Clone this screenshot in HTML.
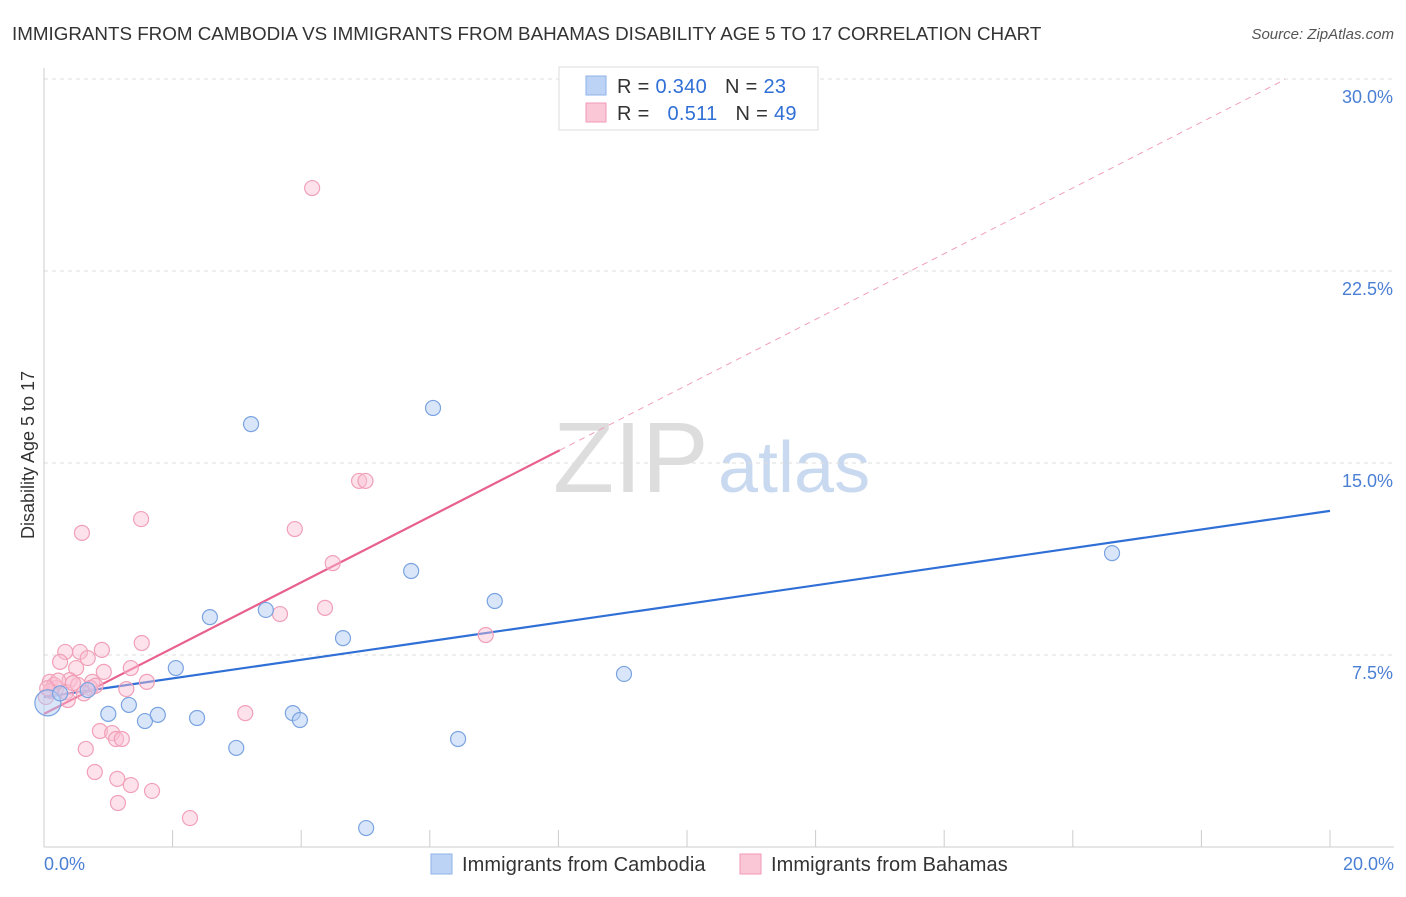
<!DOCTYPE html>
<html><head><meta charset="utf-8">
<style>
body{margin:0;background:#fff;font-family:"Liberation Sans",sans-serif;}
svg text{font-family:"Liberation Sans",sans-serif;}
</style></head>
<body>
<svg id="chart" width="1406" height="892" viewBox="0 0 1406 892">
<text x="12" y="40" font-size="18.8" fill="#333">IMMIGRANTS FROM CAMBODIA VS IMMIGRANTS FROM BAHAMAS DISABILITY AGE 5 TO 17 CORRELATION CHART</text>
<text x="1394" y="39" font-size="15" fill="#555" text-anchor="end" font-style="italic">Source: ZipAtlas.com</text>
<g>
<text x="553" y="492" font-size="100" fill="#ddd" font-family="Liberation Serif">ZIP</text>
<text x="718" y="492" font-size="72" fill="#c9daf0">atlas</text>
</g>
<g id="grid"></g>
<g id="axes"></g>
<g id="lines"></g>
<g id="points"></g>
<text transform="translate(34,455) rotate(-90)" font-size="18" fill="#333" text-anchor="middle">Disability Age 5 to 17</text>
<text x="44" y="870" font-size="18" fill="#4a7fd4">0.0%</text>
<text x="1394" y="870" font-size="18" fill="#4a7fd4" text-anchor="end">20.0%</text>
<g>
<rect x="559" y="67" width="259" height="63" fill="#fff" stroke="#ddd"/>
<rect x="586" y="76" width="20" height="19" fill="#bcd3f5" stroke="#8fb2e8"/>
<rect x="586" y="103" width="20" height="19" fill="#fac7d6" stroke="#f09ab5"/>
<text x="617" y="93" font-size="20" fill="#333" letter-spacing="0.3">R = <tspan fill="#2f6fd6">0.340</tspan><tspan dx="18">N = </tspan><tspan fill="#2f6fd6">23</tspan></text>
<text x="617" y="120" font-size="20" fill="#333" letter-spacing="0.3">R = <tspan dx="12" fill="#2f6fd6">0.511</tspan><tspan dx="18">N = </tspan><tspan fill="#2f6fd6">49</tspan></text>
</g>
<g>
<rect x="431" y="854" width="21" height="20" fill="#bcd3f5" stroke="#8fb2e8"/>
<text x="462" y="871" font-size="20" letter-spacing="0.1" fill="#333">Immigrants from Cambodia</text>
<rect x="740" y="854" width="21" height="20" fill="#fac7d6" stroke="#f09ab5"/>
<text x="771" y="871" font-size="20" letter-spacing="0.1" fill="#333">Immigrants from Bahamas</text>
</g>
</svg>
<script>
const yTicks=[7.5,15,22.5,30];
const yTickLabels=["7.5%","15.0%","22.5%","30.0%"];
const xTicks=[0,2,4,6,8,10,12,14,16,18,20];
const cambodiaX=[0.06,0.68,1.0,1.32,1.57,1.77,2.05,2.38,2.58,2.99,3.22,3.45,3.87,3.98,4.65,5.01,5.71,6.05,6.44,7.01,9.02,16.61,0.25];
const cambodiaY=[5.63,6.13,5.2,5.55,4.92,5.16,6.99,5.04,8.98,3.87,16.52,9.26,5.23,4.96,8.16,0.74,10.78,17.15,4.22,9.61,6.76,11.48,6.0];
const bahamasX=[4.17,0.59,1.51,4.9,5.0,3.9,4.49,4.37,3.67,6.87,1.52,0.9,0.33,0.56,0.68,0.25,1.35,0.93,0.5,1.6,0.75,0.09,0.4,1.28,0.19,0.34,0.72,0.03,0.37,3.13,0.87,1.06,1.12,1.21,0.65,0.79,1.14,1.35,1.15,1.68,2.27,0.16,0.53,0.1,0.45,0.62,0.22,0.8,0.05];
const bahamasY=[25.74,12.27,12.81,14.3,14.3,12.42,11.09,9.34,9.1,8.28,7.97,7.7,7.62,7.62,7.38,7.23,6.99,6.84,6.99,6.45,6.45,6.45,6.52,6.17,6.21,6.05,6.21,5.86,5.74,5.23,4.53,4.45,4.22,4.22,3.83,2.93,2.66,2.42,1.72,2.19,1.13,6.33,6.33,6.1,6.4,6.0,6.5,6.3,6.2];
const cambodiaTrend=[5.86,13.13]; // y at x=0 and x=20
const bahamasTrend=[5.2,1.284];   // intercept, slope
const bahamasSolidEnd=8.02;
const bahamasDashEnd=19.3;

const NS="http://www.w3.org/2000/svg";
const sx=v=>44+v*(1330-44)/20;
const sy=v=>847-v*25.6;
function mk(tag,attrs,parent){const e=document.createElementNS(NS,tag);for(const k in attrs)e.setAttribute(k,attrs[k]);parent.appendChild(e);return e;}
const grid=document.getElementById('grid'),axes=document.getElementById('axes'),lines=document.getElementById('lines'),pts=document.getElementById('points');
yTicks.forEach((t,i)=>{
  const l=mk('line',{x1:44,x2:1394,y1:sy(t),y2:sy(t),stroke:'#ddd','stroke-dasharray':'4,4'},grid);
  
  
  const tx=mk('text',{x:1393,y:sy(t)+24,'font-size':18,fill:'#4a7fd4','text-anchor':'end'},grid);
  tx.textContent=yTickLabels[i];
  
  
});
const ya=mk('line',{x1:44,x2:44,y1:68,y2:847,stroke:'#ccc'},axes);


const xa=mk('line',{x1:44,x2:1394,y1:847,y2:847,stroke:'#ccc'},axes);


xTicks.forEach(t=>{
  const l=mk('line',{x1:sx(t),x2:sx(t),y1:830,y2:847,stroke:'#ccc'},axes);
  
  
});
const bt=mk('line',{x1:sx(0),y1:sy(cambodiaTrend[0]),x2:sx(20),y2:sy(cambodiaTrend[1]),stroke:'#2f6fd6','stroke-width':2.2},lines);


const py=x=>bahamasTrend[0]+bahamasTrend[1]*x;
const pd=mk('line',{x1:sx(bahamasSolidEnd),y1:sy(py(bahamasSolidEnd)),x2:sx(bahamasDashEnd),y2:sy(py(bahamasDashEnd)),stroke:'#f0a0b8','stroke-width':1,'stroke-dasharray':'6,5'},lines);


const ps=mk('line',{x1:sx(0),y1:sy(py(0)),x2:sx(bahamasSolidEnd),y2:sy(py(bahamasSolidEnd)),stroke:'#e8608e','stroke-width':2.2},lines);


bahamasX.forEach((x,i)=>{
  const c=mk('circle',{cx:sx(x),cy:sy(bahamasY[i]),r:7.5,fill:'rgba(250,190,210,0.45)',stroke:'#f0a0b8','stroke-width':1.2},pts);
  
  
});
cambodiaX.forEach((x,i)=>{
  const c=mk('circle',{cx:sx(x),cy:sy(cambodiaY[i]),r:i===0?13:7.5,fill:'rgba(180,205,245,0.5)',stroke:'#7aa3e0','stroke-width':1.2},pts);
  
  
});
</script>
</body></html>
